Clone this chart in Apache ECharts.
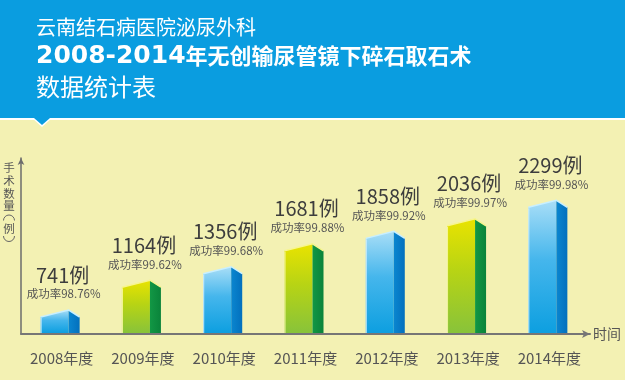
<!DOCTYPE html>
<html>
<head>
<meta charset="utf-8">
<script src="https://cdn.jsdelivr.net/npm/echarts@6/dist/echarts.min.js"></script>
<style>
html,body{margin:0;padding:0;background:#f3f1b3;}
#main{width:625px;height:380px;}
</style>
</head>
<body>
<div id="main"></div>
<script>
// ---- data ----
const years = ['2008年度', '2009年度', '2010年度', '2011年度', '2012年度', '2013年度', '2014年度'];
const counts = [741, 1164, 1356, 1681, 1858, 2036, 2299];
const rates = ['98.76', '99.62', '99.68', '99.88', '99.92', '99.97', '99.98'];
const titleLine1 = '云南结石病医院泌尿外科';
const titleYears = '2008-2014';
const titleLine2 = '年无创输尿管镜下碎石取石术';
const titleLine3 = '数据统计表';
const yNameChars = ['手', '术', '数', '量'];
const yNameUnit = '例';
const xName = '时间';

const CJK = '"Noto Sans CJK SC", "Noto Sans", sans-serif';
const Y_MIN = 400;

const chart = echarts.init(document.getElementById('main'), null, {renderer: 'canvas'});

const palettes = [
  { // blue
    front: ['#a9def7', '#45b6ec', '#0d9fe0'],
    side: ['#0a86d0', '#0370bd'],
    edge: '#c8efff', left: 'rgba(210,240,255,0.9)'
  },
  { // green
    front: ['#e9e300', '#b8d414', '#88c33a'],
    side: ['#129745', '#0a833a'],
    edge: '#f7f590', left: 'rgba(250,250,170,0.9)'
  }
];

function renderBar(params, api) {
  const i = params.dataIndex;
  const top = api.coord([api.value(0), api.value(1)]);
  const base = api.coord([api.value(0), Y_MIN]);
  const c = top[0], yT = top[1], yB = base[1] - 1;
  const p = palettes[i % 2];
  const xl = c - 21, xm = c + 7, xr = c + 18;
  return {
    type: 'group',
    children: [
      {
        type: 'polygon',
        shape: {points: [[xl, yB], [xl, yT + 7], [xm, yT], [xm, yB]]},
        style: {fill: new echarts.graphic.LinearGradient(0, 0, 0, 1, [
          {offset: 0, color: p.front[0]},
          {offset: 0.45, color: p.front[1]},
          {offset: 1, color: p.front[2]}
        ])}
      },
      {
        type: 'polygon',
        shape: {points: [[xm, yT], [xr, yT + 7], [xr, yB], [xm, yB]]},
        style: {fill: new echarts.graphic.LinearGradient(0, 0, 1, 0, [
          {offset: 0, color: p.side[0]},
          {offset: 1, color: p.side[1]}
        ])}
      },
      {
        type: 'polyline',
        shape: {points: [[xl, yT + 7], [xm, yT], [xr, yT + 7]]},
        style: {stroke: p.edge, lineWidth: 1.5, fill: null}
      },
      {
        type: 'line',
        shape: {x1: xl + 0.5, y1: yT + 8, x2: xl + 0.5, y2: yB},
        style: {stroke: p.left, lineWidth: 1}
      },
      {
        type: 'text',
        style: {
          text: counts[i] + '例', x: c + 1, y: yT - 35,
          align: 'center', verticalAlign: 'middle',
          fontSize: 20, fontFamily: CJK, fill: '#3d3d3d'
        }
      },
      {
        type: 'text',
        style: {
          text: '成功率' + rates[i] + '%', x: c + 2, y: yT - 16,
          align: 'center', verticalAlign: 'middle',
          fontSize: 11.5, fontFamily: CJK, fill: '#555555'
        }
      }
    ]
  };
}

const yNameGraphics = yNameChars.map((ch, k) => ({
  type: 'text', z: 2,
  style: {text: ch, x: 9, y: 168 + k * 12.6, align: 'center', verticalAlign: 'middle',
    fontSize: 11.5, fontFamily: CJK, fill: '#555555'}
}));

const option = {
  backgroundColor: '#f3f1b3',
  animation: false,
  grid: {left: 21, right: 35, top: 158, bottom: 46, containLabel: false},
  xAxis: {
    type: 'category',
    data: years,
    axisLine: {show: true, symbol: ['none', 'arrow'], symbolSize: [6, 8],
      lineStyle: {color: '#767676', width: 2}},
    axisTick: {show: false},
    axisLabel: {color: '#555555', fontSize: 15, fontFamily: CJK, margin: 17, interval: 0},
    name: xName,
    nameLocation: 'end',
    nameGap: 3,
    nameTextStyle: {color: '#555555', fontSize: 14, fontFamily: CJK}
  },
  yAxis: {
    type: 'value',
    min: Y_MIN,
    max: 2900,
    axisLine: {show: true, symbol: ['none', 'arrow'], symbolSize: [5, 7],
      lineStyle: {color: '#6d6d6d', width: 1.5}},
    axisTick: {show: false},
    axisLabel: {show: false},
    splitLine: {show: false}
  },
  series: [{
    type: 'custom',
    renderItem: renderBar,
    data: counts.map((v, i) => [i, v]),
    clip: false,
    z: 3
  }],
  graphic: [
    {type: 'rect', shape: {x: 0, y: 0, width: 625, height: 118}, style: {fill: '#0a9de0'}, z: 1},
    {type: 'rect', shape: {x: 0, y: 118, width: 625, height: 2}, style: {fill: '#ffffff'}, z: 1},
    {type: 'polygon', shape: {points: [[32, 118], [52, 118], [42, 127]]}, style: {fill: '#ffffff'}, z: 1},
    {type: 'polygon', shape: {points: [[34, 118], [50, 118], [42, 125]]}, style: {fill: '#0a9de0'}, z: 1},
    {type: 'text', z: 2, style: {text: titleLine1, x: 36, y: 27, verticalAlign: 'middle',
      fontSize: 20, fontFamily: CJK, fill: '#ffffff'}},
    {type: 'text', z: 2, style: {
      text: '{d|' + titleYears + '}{c|' + titleLine2 + '}', x: 36, y: 56, verticalAlign: 'middle',
      fill: '#ffffff',
      rich: {
        d: {fontSize: 25, fontWeight: 'bold', fontFamily: '"DejaVu Sans", sans-serif', fill: '#ffffff', color: '#ffffff'},
        c: {fontSize: 22, fontWeight: 'bold', fontFamily: CJK, fill: '#ffffff', color: '#ffffff'}
      }}},
    {type: 'text', z: 2, style: {text: titleLine3, x: 36, y: 87, verticalAlign: 'middle',
      fontSize: 24, fontFamily: CJK, fill: '#ffffff'}},
    ...yNameGraphics,
    {type: 'arc', z: 2, shape: {cx: 9, cy: 220.5, r: 5.5, startAngle: Math.PI, endAngle: 2 * Math.PI, clockwise: true},
      style: {stroke: '#666666', lineWidth: 1, fill: null}},
    {type: 'text', z: 2, style: {text: yNameUnit, x: 9, y: 228.5, align: 'center', verticalAlign: 'middle',
      fontSize: 11.5, fontFamily: CJK, fill: '#555555'}},
    {type: 'arc', z: 2, shape: {cx: 9, cy: 236, r: 5.5, startAngle: 0, endAngle: Math.PI, clockwise: true},
      style: {stroke: '#666666', lineWidth: 1, fill: null}}
  ]
};
chart.setOption(option);
</script>
</body>
</html>
